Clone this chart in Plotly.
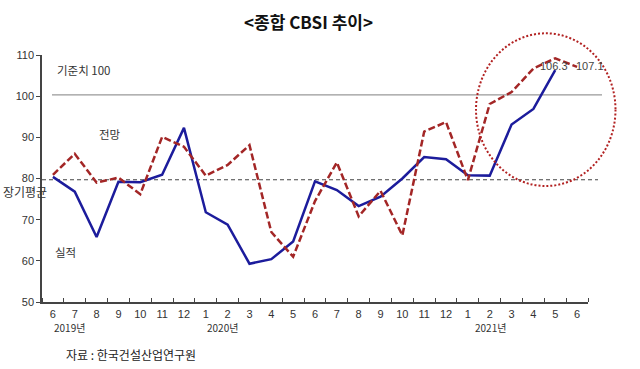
import plotly.graph_objects as go

# ---- data ----
months = ["6", "7", "8", "9", "10", "11", "12", "1", "2", "3", "4", "5",
          "6", "7", "8", "9", "10", "11", "12", "1", "2", "3", "4", "5", "6"]
actual = [80.4, 76.8, 65.8, 79.2, 79.1, 80.9, 92.3, 71.8, 68.8, 59.3, 60.4, 64.7,
          79.3, 77.2, 73.3, 75.6, 80.0, 85.2, 84.7, 80.8, 80.7, 93.1, 96.9, 106.3]
forecast = [80.9, 86.0, 79.0, 80.2, 76.2, 90.1, 87.7, 80.7, 83.3, 88.1, 67.0, 61.0,
            74.5, 83.9, 70.8, 77.0, 66.2, 91.4, 93.7, 79.6, 98.1, 101.0, 106.7, 109.2, 107.1]
years = ["2019년", "2020년", "2021년"]
year_pos = [0.75, 7.78, 20.05]
benchmark = 100.3
long_term_avg = 79.7

x_idx = list(range(len(months)))

FONT = "Noto Sans CJK KR"
TXT = "#333333"

# plot area in page pixels (for paper-coordinate helpers)
L, R, T, B = 42, 588, 55, 302
def px(x):
    return (x - L) / (R - L)
def py(y):
    return (B - y) / (B - T)

fig = go.Figure()
fig.add_trace(go.Scatter(x=x_idx[:len(actual)], y=actual, mode="lines",
                         line=dict(color="#1c1c9c", width=2.5), name="실적"))
fig.add_trace(go.Scatter(x=x_idx, y=forecast, mode="lines",
                         line=dict(color="#a32626", width=2.5, dash="7px,3px"), name="전망"))

# reference lines
fig.add_shape(type="line", xref="paper", yref="y", x0=px(52), x1=px(602),
              y0=benchmark, y1=benchmark, line=dict(color="#999999", width=1.2), layer="below")
fig.add_shape(type="line", xref="paper", yref="y", x0=px(42), x1=px(598),
              y0=long_term_avg, y1=long_term_avg, line=dict(color="#444444", width=1.2, dash="4px,3px"),
              layer="below")
# dotted ellipse
fig.add_shape(type="circle", xref="paper", yref="paper", x0=px(476), x1=px(615.5),
              y0=py(186), y1=py(33.3),
              line=dict(color="#b22222", width=2, dash="2px,2px"))

ann = []
def t(x, y, s, size=11, xanchor="center", color=TXT, family=FONT):
    ann.append(dict(x=px(x), y=py(y), xref="paper", yref="paper", text=s, showarrow=False,
                    xanchor=xanchor, yanchor="middle",
                    font=dict(family=family, size=size, color=color)))

t(55, 70, "기준치 100", xanchor="left", size=11.5)
t(110, 134, "전망", size=11.5)
t(65, 252, "실적", size=11.5)
t(25, 191.5, "장기평균", size=12)
t(554, 66, "106.3", color="#444444", family="Liberation Sans Narrow, Liberation Sans")
t(590, 66, "107.1", color="#444444", family="Liberation Sans Narrow, Liberation Sans")
for yp, ys in zip(year_pos, years):
    ann.append(dict(x=yp, y=py(327.5), xref="x", yref="paper", text=ys, showarrow=False,
                    xanchor="center", yanchor="middle",
                    font=dict(family=FONT, size=10, color=TXT)))
t(308, 21, "<b><종합 CBSI 추이></b>", size=17, color="#111111")
t(64, 354, "자료 : 한국건설산업연구원", xanchor="left", size=12, color="#222222")

fig.update_layout(
    width=640, height=369,
    margin=dict(l=L, r=640 - R, t=T, b=369 - B),
    paper_bgcolor="white", plot_bgcolor="white",
    showlegend=False,
    annotations=ann,
    xaxis=dict(range=[-0.5, 24.5], tickmode="array", tickvals=x_idx, ticktext=months,
               ticks="", showgrid=False, zeroline=False, showline=True,
               linecolor="#444444", linewidth=1.5, ticklabelstandoff=1,
               tickfont=dict(family="Liberation Sans", size=11, color=TXT),
               minor=dict(tickmode="array", tickvals=[i - 0.5 for i in range(len(months) + 1)],
                          ticks="inside", ticklen=4, tickcolor="#444444", showgrid=False)),
    yaxis=dict(range=[50, 110], dtick=10, ticks="outside", ticklen=4, tickcolor="#444444",
               showgrid=False, zeroline=False, showline=True, linecolor="#444444", linewidth=1.5,
               tickfont=dict(family="Liberation Sans", size=11, color=TXT)),
)

fig.write_html("out.html", config={"displayModeBar": False},
               post_script="document.body.style.margin='0';document.body.style.overflow='hidden';")
